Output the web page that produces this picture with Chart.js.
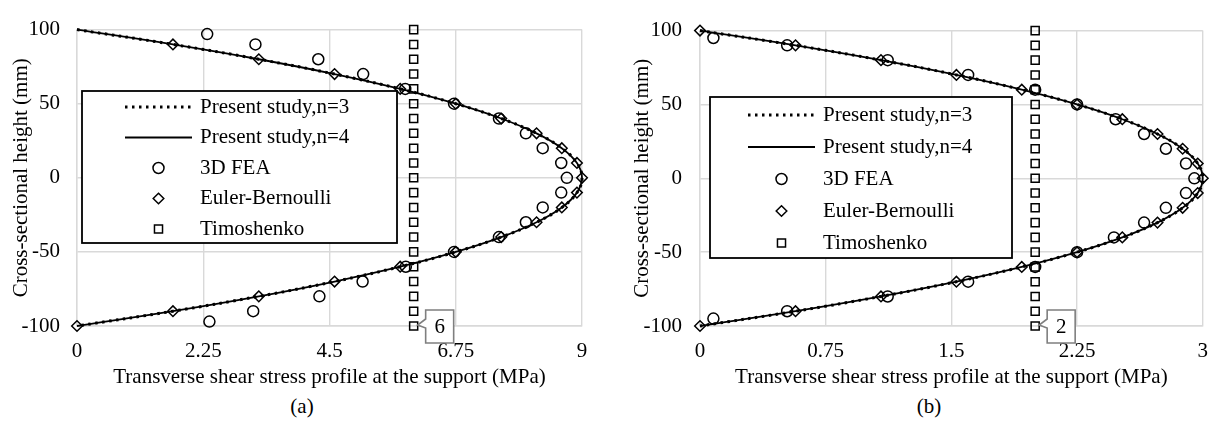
<!DOCTYPE html>
<html>
<head>
<meta charset="utf-8">
<script src="https://cdn.jsdelivr.net/npm/chart.js@4.4.1/dist/chart.umd.min.js"></script>
<style>
  body { margin: 0; background: #fff; width: 1221px; height: 428px; position: relative; overflow: hidden;
         font-family: 'Liberation Serif', 'Times New Roman', serif; }
  canvas { position: absolute; top: 0; }
  .cap { position: absolute; top: 394px; font-size: 21px; line-height: 24px; width: 60px; margin-left: -30px; text-align: center; color: #000; }
</style>
</head>
<body>
<canvas id="chartA" width="610" height="390" style="left:0"></canvas>
<canvas id="chartB" width="611" height="390" style="left:610px"></canvas>
<div class="cap" style="left:302px">(a)</div>
<div class="cap" style="left:929px">(b)</div>
<script>
// section heights (mm)
const heights = [100, 90, 80, 70, 60, 50, 40, 30, 20, 10, 0, -10, -20, -30, -40, -50, -60, -70, -80, -90, -100];
const xTicksA = [0, 2.25, 4.5, 6.75, 9];
const xTicksB = [0, 0.75, 1.5, 2.25, 3];
const yTicks = [100, 50, 0, -50, -100];

// (a) shear stress, MPa
const presentN3A = [0, 1.71, 3.24, 4.59, 5.76, 6.75, 7.56, 8.19, 8.64, 8.91, 9, 8.91, 8.64, 8.19, 7.56, 6.75, 5.76, 4.59, 3.24, 1.71, 0];
const presentN4A = [0, 1.71, 3.24, 4.59, 5.76, 6.75, 7.56, 8.19, 8.64, 8.91, 9, 8.91, 8.64, 8.19, 7.56, 6.75, 5.76, 4.59, 3.24, 1.71, 0];
const feaHeightsA = [97, 90, 80, 70, 60, 50, 40, 30, 20, 10, 0, -10, -20, -30, -40, -50, -60, -70, -80, -90, -97];
const feaA = [2.32, 3.18, 4.3, 5.1, 5.85, 6.72, 7.52, 8.0, 8.3, 8.63, 8.73, 8.63, 8.3, 8.0, 7.52, 6.72, 5.86, 5.09, 4.32, 3.14, 2.36];
const ebHeightsA = [90, 80, 70, 60, 50, 40, 30, 20, 10, 0, -10, -20, -30, -40, -50, -60, -70, -80, -90, -100];
const eulerA = [1.71, 3.24, 4.59, 5.76, 6.75, 7.56, 8.19, 8.64, 8.91, 9, 8.91, 8.64, 8.19, 7.56, 6.75, 5.76, 4.59, 3.24, 1.71, 0];
const timoA = [6, 6, 6, 6, 6, 6, 6, 6, 6, 6, 6, 6, 6, 6, 6, 6, 6, 6, 6, 6, 6];

// (b) shear stress, MPa
const presentN3B = [0, 0.57, 1.08, 1.53, 1.92, 2.25, 2.52, 2.73, 2.88, 2.97, 3, 2.97, 2.88, 2.73, 2.52, 2.25, 1.92, 1.53, 1.08, 0.57, 0];
const presentN4B = [0, 0.57, 1.08, 1.53, 1.92, 2.25, 2.52, 2.73, 2.88, 2.97, 3, 2.97, 2.88, 2.73, 2.52, 2.25, 1.92, 1.53, 1.08, 0.57, 0];
const feaHeightsB = [95, 90, 80, 70, 60, 50, 40, 30, 20, 10, 0, -10, -20, -30, -40, -50, -60, -70, -80, -90, -95];
const feaB = [0.08, 0.52, 1.12, 1.6, 2.0, 2.25, 2.48, 2.65, 2.78, 2.9, 2.95, 2.9, 2.78, 2.65, 2.47, 2.25, 2.0, 1.6, 1.12, 0.52, 0.08];
const eulerB = [0, 0.57, 1.08, 1.53, 1.92, 2.25, 2.52, 2.73, 2.88, 2.97, 3, 2.97, 2.88, 2.73, 2.52, 2.25, 1.92, 1.53, 1.08, 0.57, 0];
const timoB = [2, 2, 2, 2, 2, 2, 2, 2, 2, 2, 2, 2, 2, 2, 2, 2, 2, 2, 2, 2, 2];

const FONT = "'Liberation Serif', 'Times New Roman', serif";
Chart.defaults.font.family = FONT;
Chart.defaults.font.size = 21;
Chart.defaults.color = '#000';

function pts(ys, xs) {
  return xs.map((x, i) => ({ x: x, y: ys[i] }));
}

function drawMarker(ctx, style, r, x, y, lw) {
  ctx.save();
  ctx.lineWidth = lw;
  ctx.strokeStyle = '#000';
  ctx.beginPath();
  if (style === 'circle') {
    ctx.arc(x, y, r, 0, Math.PI * 2);
  } else if (style === 'rectRot') {
    ctx.moveTo(x, y - r); ctx.lineTo(x + r, y); ctx.lineTo(x, y + r); ctx.lineTo(x - r, y); ctx.closePath();
  } else {
    const h = r * Math.SQRT1_2;
    ctx.rect(x - h, y - h, 2 * h, 2 * h);
  }
  ctx.stroke();
  ctx.restore();
}

// legend box drawn inside the plot
const boxLegend = {
  id: 'boxLegend',
  afterDatasetsDraw(chart, args, o) {
    const ctx = chart.ctx;
    ctx.save();
    ctx.fillStyle = '#fff';
    ctx.fillRect(o.x, o.y, o.w, o.h);
    ctx.lineWidth = 1.8;
    ctx.strokeStyle = '#000';
    ctx.strokeRect(o.x, o.y, o.w, o.h);
    chart.data.datasets.forEach((ds, i) => {
      const y = o.row0 + i * o.gap;
      if (ds.showLine) {
        ctx.beginPath();
        ctx.setLineDash(ds.borderDash || []);
        ctx.lineWidth = ds.borderWidth;
        ctx.strokeStyle = '#000';
        ctx.moveTo(o.line0, y);
        ctx.lineTo(o.line1, y);
        ctx.stroke();
        ctx.setLineDash([]);
      } else {
        drawMarker(ctx, ds.pointStyle, ds.pointRadius, (o.line0 + o.line1) / 2, y, ds.pointBorderWidth);
      }
      ctx.fillStyle = '#000';
      ctx.font = '21px ' + FONT;
      ctx.textAlign = 'left';
      ctx.textBaseline = 'middle';
      ctx.fillText(ds.label, o.textX, y);
    });
    ctx.restore();
  }
};

// callout label on the last Timoshenko point
const callout = {
  id: 'callout',
  afterDatasetsDraw(chart) {
    const ds = chart.data.datasets[4];
    const p = ds.data[ds.data.length - 1];
    const px = chart.scales.x.getPixelForValue(p.x);
    const py = chart.scales.y.getPixelForValue(p.y);
    const ctx = chart.ctx;
    const bx = px + 12, by = py - 16, bw = 28, bh = 33;
    ctx.save();
    ctx.beginPath();
    ctx.moveTo(bx, by);
    ctx.lineTo(bx + bw, by);
    ctx.lineTo(bx + bw, by + bh);
    ctx.lineTo(bx, by + bh);
    ctx.lineTo(bx, py + 2);
    ctx.lineTo(px + 4, py - 1);
    ctx.lineTo(bx, py - 7);
    ctx.closePath();
    ctx.fillStyle = '#fff';
    ctx.fill();
    ctx.lineWidth = 1.6;
    ctx.strokeStyle = '#7f7f7f';
    ctx.stroke();
    ctx.fillStyle = '#000';
    ctx.font = '21px ' + FONT;
    ctx.textAlign = 'center';
    ctx.textBaseline = 'middle';
    ctx.fillText(String(p.x), bx + bw / 2, by + bh / 2 + 1);
    ctx.restore();
  }
};

function makeChart(id, s) {
  new Chart(document.getElementById(id), {
    type: 'scatter',
    data: {
      datasets: [
        { label: 'Present study,n=3', data: pts(heights, s.n3), showLine: true, borderColor: '#000',
          borderWidth: 3, borderDash: [2.5, 4.5], pointRadius: 0, tension: 0.4, clip: false },
        { label: 'Present study,n=4', data: pts(heights, s.n4), showLine: true, borderColor: '#000',
          borderWidth: 1.8, pointRadius: 0, tension: 0.4, clip: false },
        { label: '3D FEA', data: pts(s.feaY, s.fea), pointStyle: 'circle', pointRadius: 5.5,
          pointBorderWidth: 1.5, borderColor: '#000', backgroundColor: 'rgba(0,0,0,0)', clip: false },
        { label: 'Euler-Bernoulli', data: pts(s.ebY, s.eb), pointStyle: 'rectRot', pointRadius: 5.3,
          pointBorderWidth: 1.5, borderColor: '#000', backgroundColor: 'rgba(0,0,0,0)', clip: false },
        { label: 'Timoshenko', data: pts(heights, s.timo), pointStyle: 'rect', pointRadius: 5.7,
          pointBorderWidth: 1.5, borderColor: '#000', backgroundColor: 'rgba(0,0,0,0)', clip: false }
      ]
    },
    options: {
      responsive: false,
      animation: false,
      events: [],
      layout: { padding: { top: 16, right: s.padRight, left: 0, bottom: 0 } },
      plugins: {
        legend: { display: false },
        tooltip: { enabled: false },
        boxLegend: s.legend
      },
      scales: {
        x: {
          type: 'linear', min: 0, max: s.xTicks[s.xTicks.length - 1],
          afterBuildTicks: sc => { sc.ticks = s.xTicks.map(v => ({ value: v })); },
          afterFit: sc => { sc.height = 64; },
          ticks: { padding: 13, callback: v => String(v), maxRotation: 0 },
          grid: { color: '#d9d9d9', lineWidth: 1.4, drawTicks: false },
          border: { color: '#d9d9d9', width: 1.4 },
          title: { display: true, text: 'Transverse shear stress profile at the support (MPa)', padding: 0 }
        },
        y: {
          type: 'linear', min: -100, max: 100,
          afterBuildTicks: sc => { sc.ticks = yTicks.map(v => ({ value: v })); },
          afterFit: sc => { sc.width = s.yWidth; },
          ticks: { padding: s.yPad },
          grid: { color: '#d9d9d9', lineWidth: 1.4, drawTicks: false },
          border: { color: '#d9d9d9', width: 1.4 },
          title: { display: true, text: 'Cross-sectional height (mm)', padding: { top: s.yTitlePad, bottom: 0 } }
        }
      }
    },
    plugins: [boxLegend, callout]
  });
}

makeChart('chartA', {
  n3: presentN3A, n4: presentN4A, feaY: feaHeightsA, fea: feaA, ebY: ebHeightsA, eb: eulerA, timo: timoA,
  xTicks: xTicksA, padRight: 28, yWidth: 77, yPad: 17, yTitlePad: 9,
  legend: { x: 82, y: 91, w: 315, h: 152, row0: 107, gap: 30.5, line0: 125, line1: 192, textX: 200 }
});

makeChart('chartB', {
  n3: presentN3B, n4: presentN4B, feaY: feaHeightsB, fea: feaB, ebY: heights, eb: eulerB, timo: timoB,
  xTicks: xTicksB, padRight: 7, yWidth: 90, yPad: 18, yTitlePad: 20,
  legend: { x: 100, y: 97, w: 302, h: 161, row0: 115, gap: 32, line0: 138, line1: 205, textX: 213 }
});
</script>
</body>
</html>
